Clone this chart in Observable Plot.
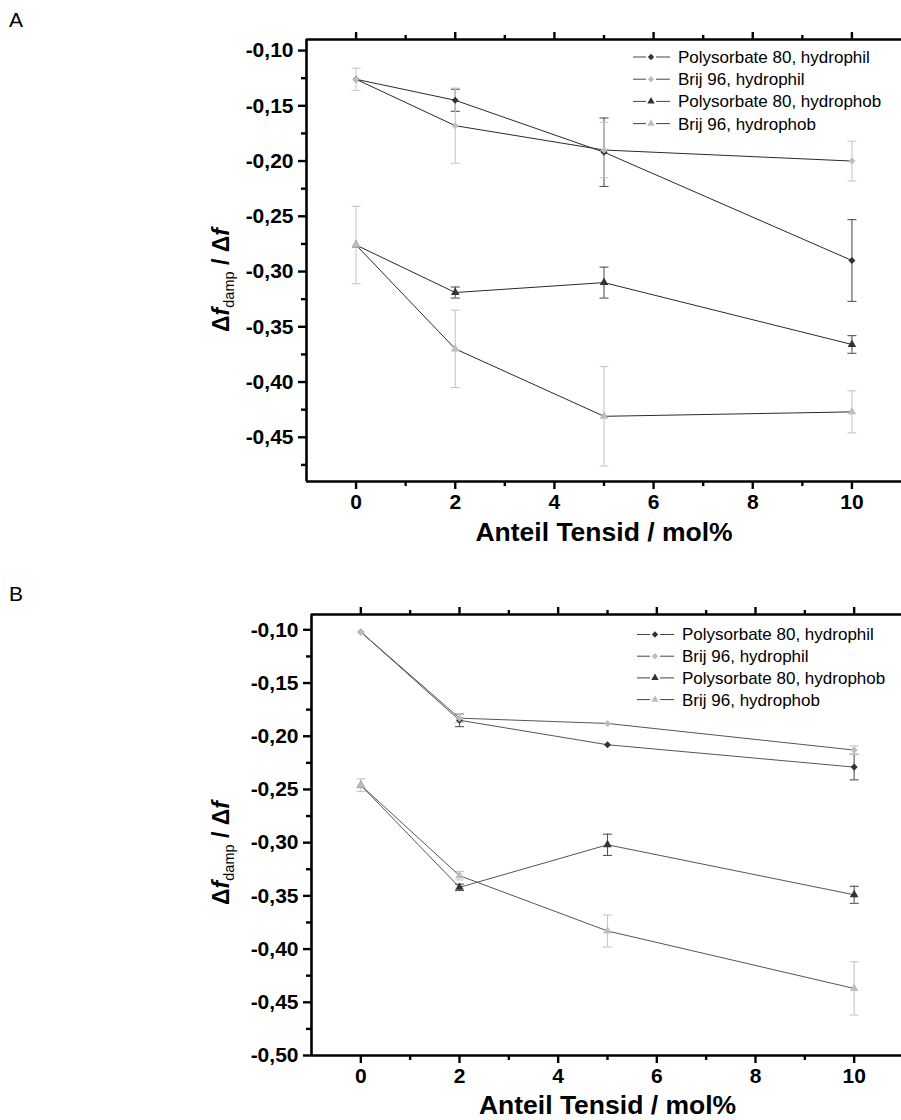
<!DOCTYPE html>
<html>
<head>
<meta charset="utf-8">
<script src="https://cdn.jsdelivr.net/npm/d3@7"></script>
<script src="https://cdn.jsdelivr.net/npm/@observablehq/plot@0.6"></script>
<style>
  body { margin: 0; background: white; font-family: "Liberation Sans", Arial, sans-serif; }
  #wrap { position: relative; width: 901px; height: 1120px; overflow: hidden; }
  .panel { position: absolute; left: 0; }
  .plabel { position: absolute; left: 9px; font-size: 21px; color: #000; }
</style>
</head>
<body>
<div id="wrap">
  <div class="plabel" style="top:8px">A</div>
  <div class="plabel" style="top:582px">B</div>
  <div id="pa" class="panel" style="top:0px"></div>
  <div id="pb" class="panel" style="top:560px"></div>
</div>
<script>
// ---------- data ----------
const seriesNames = ["Polysorbate 80, hydrophil", "Brij 96, hydrophil", "Polysorbate 80, hydrophob", "Brij 96, hydrophob"];
const xValues = [0, 2, 5, 10];

// Panel A
const aPolyPhil   = [-0.126, -0.145, -0.192, -0.290];
const aPolyPhilE  = [0.000, 0.010, 0.031, 0.037];
const aBrijPhil   = [-0.126, -0.168, -0.190, -0.200];
const aBrijPhilE  = [0.010, 0.034, 0.025, 0.018];
const aPolyPhob   = [-0.276, -0.319, -0.310, -0.366];
const aPolyPhobE  = [0.000, 0.005, 0.014, 0.008];
const aBrijPhob   = [-0.276, -0.370, -0.431, -0.427];
const aBrijPhobE  = [0.035, 0.035, 0.045, 0.019];

// Panel B
const bPolyPhil   = [-0.102, -0.185, -0.208, -0.229];
const bPolyPhilE  = [0.000, 0.006, 0.000, 0.012];
const bBrijPhil   = [-0.102, -0.183, -0.188, -0.213];
const bBrijPhilE  = [0.000, 0.004, 0.000, 0.004];
const bPolyPhob   = [-0.246, -0.342, -0.302, -0.349];
const bPolyPhobE  = [0.000, 0.003, 0.010, 0.008];
const bBrijPhob   = [-0.246, -0.331, -0.383, -0.437];
const bBrijPhobE  = [0.006, 0.004, 0.015, 0.025];

// ticks
const xMajor = [0, 2, 4, 6, 8, 10];
const xMinor = [1, 3, 5, 7, 9];
const xDomain = [-1, 11];
const yDomainA = [-0.49, -0.09];
const yMajorA = [-0.10, -0.15, -0.20, -0.25, -0.30, -0.35, -0.40, -0.45];
const yMinorA = [-0.125, -0.175, -0.225, -0.275, -0.325, -0.375, -0.425, -0.475];
const yDomainB = [-0.50, -0.0856];
const yMajorB = [-0.10, -0.15, -0.20, -0.25, -0.30, -0.35, -0.40, -0.45, -0.50];
const yMinorB = [-0.125, -0.175, -0.225, -0.275, -0.325, -0.375, -0.425, -0.475];

const xTitle = "Anteil Tensid / mol%";

// ---------- styling ----------
const symbols = ["diamond2", "diamond2", "triangle", "triangle"];
const fills = ["#333333", "#bdbdbd", "#333333", "#bdbdbd"];
const errColors = ["#555555", "#c8c8c8", "#555555", "#c8c8c8"];
const FONT = "'Liberation Sans', Arial, sans-serif";

const locale = d3.formatLocale({decimal: ",", thousands: ".", grouping: [3], currency: ["", ""], minus: "-"});
const fmt = locale.format(".2f");

const capSymbol = { draw(ctx) { ctx.moveTo(-4.5, 0); ctx.lineTo(4.5, 0); } };

function rowsFor(vals, errs) {
  return xValues.map((x, i) => ({x, y: vals[i], e: errs[i], lo: vals[i] - errs[i], hi: vals[i] + errs[i]}));
}

function buildPanel(el, series, cfg) {
  const marks = [];
  series.forEach((s, k) => {
    const rows = rowsFor(s[0], s[1]).filter(r => r.e > 0);
    marks.push(Plot.ruleX(rows, {x: "x", y1: "lo", y2: "hi", stroke: errColors[k], strokeWidth: 1.1}));
    marks.push(Plot.dot(rows, {x: "x", y: "lo", symbol: capSymbol, stroke: errColors[k], strokeWidth: 1.1, fill: "none"}));
    marks.push(Plot.dot(rows, {x: "x", y: "hi", symbol: capSymbol, stroke: errColors[k], strokeWidth: 1.1, fill: "none"}));
  });
  series.forEach((s, k) => {
    const rows = rowsFor(s[0], s[1]);
    marks.push(Plot.line(rows, {x: "x", y: "y", stroke: cfg.lineColor, strokeWidth: 1}));
    marks.push(Plot.dot(rows, {x: "x", y: "y", symbol: symbols[k], fill: fills[k], stroke: "none", r: 3.2}));
  });
  // frame lines (left, top, bottom)
  marks.push(Plot.ruleX([xDomain[0]], {stroke: "black", strokeWidth: 2.6}));
  marks.push(Plot.ruleY(cfg.yDomain, {stroke: "black", strokeWidth: 2.6}));
  // axes
  marks.push(Plot.axisY({ticks: cfg.yMajor, tickSize: 8, tickPadding: 5, tickFormat: fmt, label: null,
    strokeWidth: 2.4, fontSize: 21, fontWeight: "bold"}));
  marks.push(Plot.axisY({ticks: cfg.yMinor, tickSize: 5, tickFormat: () => "", label: null, strokeWidth: 2.4}));
  marks.push(Plot.axisX({ticks: xMajor, tickSize: 8, tickPadding: 5, tickFormat: d => String(d), label: null,
    strokeWidth: 2.4, fontSize: 21, fontWeight: "bold"}));
  marks.push(Plot.axisX({ticks: xMinor, tickSize: 5, tickFormat: () => "", label: null, strokeWidth: 2.4}));
  marks.push(Plot.axisX({anchor: "top", ticks: xMajor, tickSize: 8, tickFormat: () => "", label: null, strokeWidth: 2.4}));
  marks.push(Plot.axisX({anchor: "top", ticks: xMinor, tickSize: 5, tickFormat: () => "", label: null, strokeWidth: 2.4}));
  marks.push(Plot.text([xTitle], {text: d => d, frameAnchor: "bottom", lineAnchor: "bottom", dy: cfg.xTitleDy,
    fontSize: 26.5, fontWeight: "bold", fill: "black"}));

  const svg = Plot.plot({
    width: 901, height: 560,
    marginLeft: cfg.marginLeft, marginRight: cfg.marginRight, marginTop: cfg.marginTop, marginBottom: cfg.marginBottom,
    x: {domain: xDomain},
    y: {domain: cfg.yDomain},
    style: {fontFamily: FONT, color: "black", background: "transparent", overflow: "visible"},
    marks
  });

  const sel = d3.select(svg);
  // y-axis title with subscript
  const yt = sel.append("text")
    .attr("transform", `translate(${cfg.yTitleX},${cfg.yTitleY}) rotate(-90)`)
    .attr("text-anchor", "middle")
    .attr("font-family", FONT)
    .attr("font-size", 23)
    .attr("font-weight", "bold")
    .attr("fill", "black");
  yt.append("tspan").text("\u0394");
  yt.append("tspan").attr("font-style", "italic").text("f");
  yt.append("tspan").attr("font-size", 14.5).attr("font-weight", "normal").attr("dy", 5).text("damp");
  yt.append("tspan").attr("dy", -5).text(" / \u0394");
  yt.append("tspan").attr("font-style", "italic").text("f");

  // legend
  const lg = sel.append("g").attr("font-family", FONT).attr("font-size", 17).attr("font-weight", "normal").attr("text-anchor", "start");
  seriesNames.forEach((name, k) => {
    const y = cfg.legendY + k * cfg.legendStep;
    const x0 = cfg.legendX;
    lg.append("line").attr("x1", x0).attr("x2", x0 + 13).attr("y1", y).attr("y2", y).attr("stroke", "#444").attr("stroke-width", 1);
    lg.append("line").attr("x1", x0 + 23).attr("x2", x0 + 37).attr("y1", y).attr("y2", y).attr("stroke", "#444").attr("stroke-width", 1);
    const sym = symbols[k] === "triangle" ? d3.symbolTriangle : d3.symbolDiamond2;
    lg.append("path").attr("d", d3.symbol(sym, symbols[k] === "triangle" ? 24 : 26)())
      .attr("transform", `translate(${x0 + 18},${y})`).attr("fill", fills[k]).attr("stroke", "none");
    lg.append("text").attr("x", x0 + 45).attr("y", y).attr("dy", "0.35em").attr("fill", "black").attr("text-anchor", "start").text(name);
  });

  document.getElementById(el).appendChild(svg);
}

buildPanel("pa", [[aPolyPhil, aPolyPhilE], [aBrijPhil, aBrijPhilE], [aPolyPhob, aPolyPhobE], [aBrijPhob, aBrijPhobE]], {
  yDomain: yDomainA, yMajor: yMajorA, yMinor: yMinorA,
  marginLeft: 306, marginRight: 0, marginTop: 39, marginBottom: 79,
  lineColor: "#2a2a2a", xTitleDy: 59, yTitleX: 229, yTitleY: 280,
  legendX: 633, legendY: 57, legendStep: 22.2
});

buildPanel("pb", [[bPolyPhil, bPolyPhilE], [bBrijPhil, bBrijPhilE], [bPolyPhob, bPolyPhobE], [bBrijPhob, bBrijPhobE]], {
  yDomain: yDomainB, yMajor: yMajorB, yMinor: yMinorB,
  marginLeft: 311, marginRight: -2, marginTop: 54, marginBottom: 65,
  lineColor: "#555555", xTitleDy: 58, yTitleX: 229, yTitleY: 293,
  legendX: 637, legendY: 74.5, legendStep: 21.7
});
</script>
</body>
</html>
